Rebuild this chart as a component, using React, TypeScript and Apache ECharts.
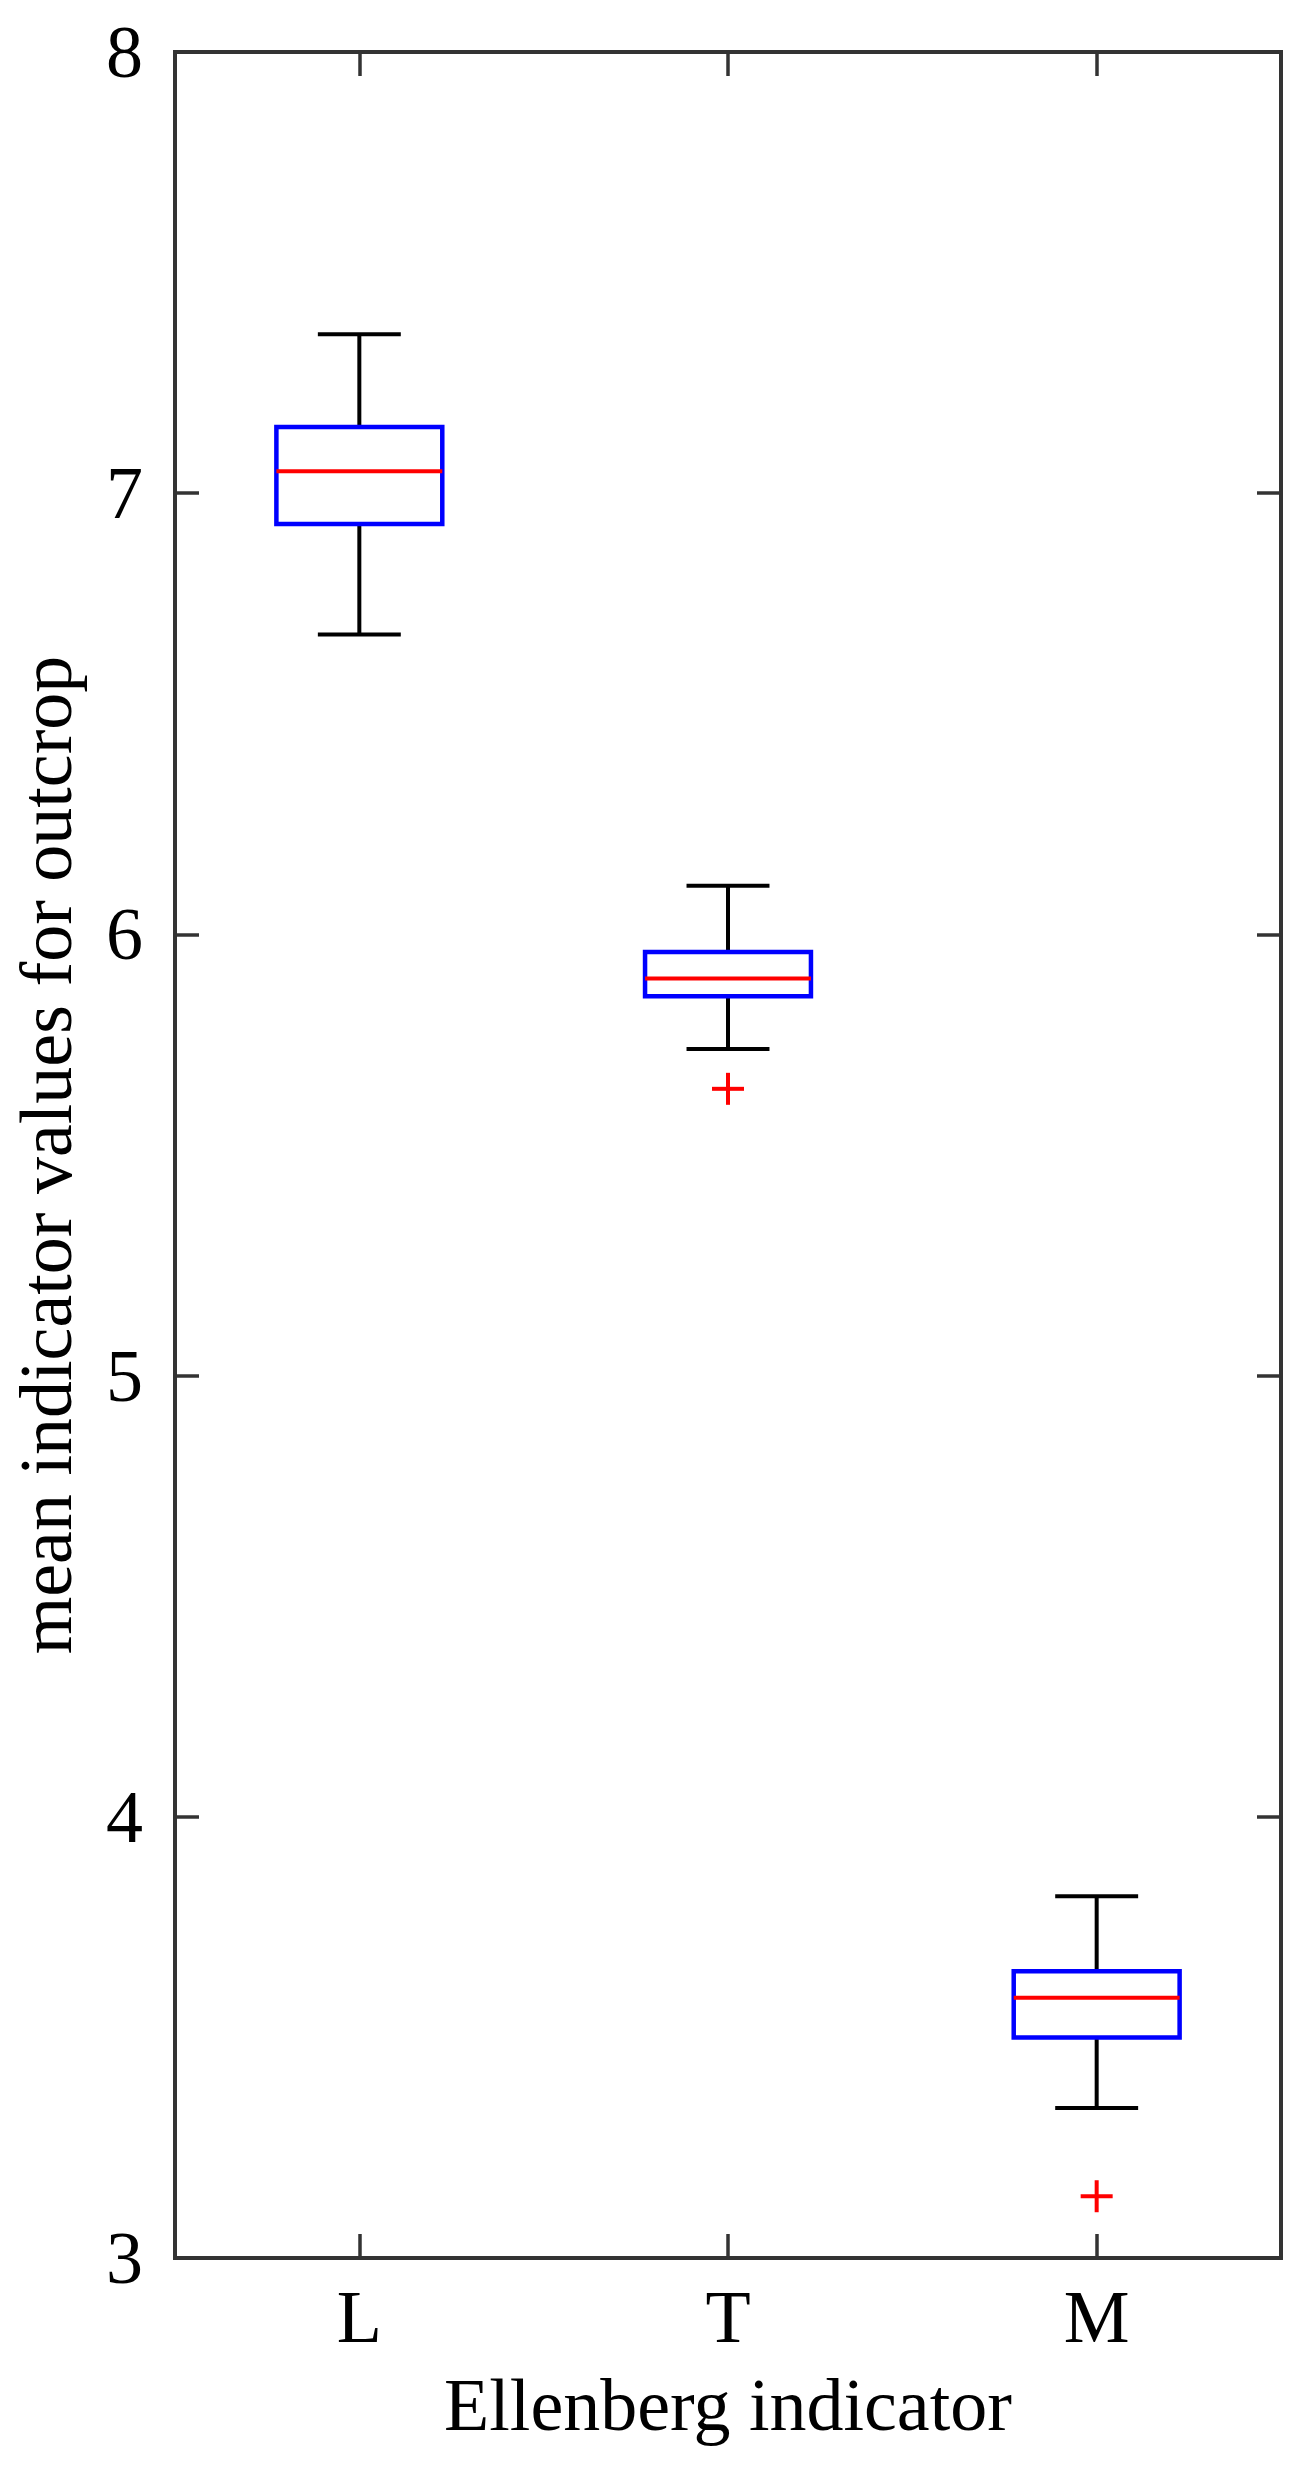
import React, { useEffect, useRef } from "react";
import * as echarts from "echarts";

const categories = ["L", "T", "M"];
const whiskerLow = [6.68, 5.74, 3.34];
const q1 = [6.93, 5.86, 3.5];
const median = [7.05, 5.9, 3.59];
const q3 = [7.15, 5.96, 3.65];
const whiskerHigh = [7.36, 6.11, 3.82];
const outliers: [number, number][] = [
  [1, 5.65],
  [2, 3.14],
];
const yTicks = { min: 3, max: 8, interval: 1 };

const FONT = "'Liberation Serif', 'Times New Roman', serif";

export default function App() {
  const ref = useRef<HTMLDivElement>(null);
  useEffect(() => {
    if (!ref.current) return;
    const chart = echarts.init(ref.current, null, { renderer: "svg" });
    const boxData = categories.map((_, i) => [i, whiskerLow[i], q1[i], median[i], q3[i], whiskerHigh[i]]);
    const tickStyle = { show: true, inside: true, length: 24, lineStyle: { color: "#333", width: 3.5 } };
    const option: any = {
      animation: false,
      backgroundColor: "#fff",
      grid: {
        left: 175,
        top: 52,
        width: 1106,
        height: 2206,
        show: true,
        borderColor: "#333",
        borderWidth: 4,
        backgroundColor: "transparent",
      },
      xAxis: [
        {
          type: "category",
          data: categories,
          boundaryGap: true,
          axisLine: { show: false },
          axisTick: { ...tickStyle, alignWithLabel: true },
          axisLabel: { fontSize: 74, fontFamily: FONT, color: "#000", margin: 22 },
          splitLine: { show: false },
          name: "Ellenberg indicator",
          nameLocation: "middle",
          nameGap: 110,
          nameTextStyle: { fontSize: 74, fontFamily: FONT, color: "#000" },
        },
        {
          type: "category",
          data: categories,
          position: "top",
          boundaryGap: true,
          axisLine: { show: false },
          axisTick: { ...tickStyle, alignWithLabel: true },
          axisLabel: { show: false },
          splitLine: { show: false },
        },
      ],
      yAxis: [
        {
          type: "value",
          min: yTicks.min,
          max: yTicks.max,
          interval: yTicks.interval,
          axisLine: { show: false },
          axisTick: tickStyle,
          axisLabel: { fontSize: 74, fontFamily: FONT, color: "#000", margin: 32 },
          splitLine: { show: false },
          name: "mean indicator values for outcrop",
          nameLocation: "middle",
          nameGap: 92,
          nameTextStyle: { fontSize: 74, fontFamily: FONT, color: "#000" },
        },
        {
          type: "value",
          position: "right",
          min: yTicks.min,
          max: yTicks.max,
          interval: yTicks.interval,
          axisLine: { show: false },
          axisTick: tickStyle,
          axisLabel: { show: false },
          splitLine: { show: false },
        },
      ],
      series: [
        {
          type: "custom",
          xAxisIndex: 0,
          yAxisIndex: 0,
          data: boxData,
          encode: { x: 0, y: [1, 2, 3, 4, 5] },
          renderItem: (params: any, api: any) => {
            const idx = api.value(0);
            const band = api.size([1, 0])[0];
            const boxW = band * 0.45;
            const capW = boxW / 2;
            const pLow = api.coord([idx, api.value(1)]);
            const pQ1 = api.coord([idx, api.value(2)]);
            const pMed = api.coord([idx, api.value(3)]);
            const pQ3 = api.coord([idx, api.value(4)]);
            const pHigh = api.coord([idx, api.value(5)]);
            const cx = pMed[0];
            const black = { stroke: "#000", lineWidth: 4 };
            return {
              type: "group",
              children: [
                { type: "line", shape: { x1: cx, y1: pHigh[1], x2: cx, y2: pQ3[1] }, style: black },
                { type: "line", shape: { x1: cx, y1: pQ1[1], x2: cx, y2: pLow[1] }, style: black },
                { type: "line", shape: { x1: cx - capW / 2, y1: pHigh[1], x2: cx + capW / 2, y2: pHigh[1] }, style: black },
                { type: "line", shape: { x1: cx - capW / 2, y1: pLow[1], x2: cx + capW / 2, y2: pLow[1] }, style: black },
                {
                  type: "rect",
                  shape: { x: cx - boxW / 2, y: pQ3[1], width: boxW, height: pQ1[1] - pQ3[1] },
                  style: { fill: "none", stroke: "#0000ff", lineWidth: 4.5 },
                },
                {
                  type: "line",
                  shape: { x1: cx - boxW / 2, y1: pMed[1], x2: cx + boxW / 2, y2: pMed[1] },
                  style: { stroke: "#ff0000", lineWidth: 4 },
                },
              ],
            };
          },
        },
        {
          type: "custom",
          xAxisIndex: 0,
          yAxisIndex: 0,
          data: outliers,
          encode: { x: 0, y: 1 },
          renderItem: (params: any, api: any) => {
            const p = api.coord([api.value(0), api.value(1)]);
            const h = 16;
            const st = { stroke: "#ff0000", lineWidth: 4 };
            return {
              type: "group",
              children: [
                { type: "line", shape: { x1: p[0] - h, y1: p[1], x2: p[0] + h, y2: p[1] }, style: st },
                { type: "line", shape: { x1: p[0], y1: p[1] - h, x2: p[0], y2: p[1] + h }, style: st },
              ],
            };
          },
        },
      ],
    };
    chart.setOption(option);
    return () => chart.dispose();
  }, []);
  return (
    <div
      ref={ref}
      style={{ position: "absolute", left: 0, top: 0, width: 1306, height: 2467, background: "#fff" }}
    />
  );
}
